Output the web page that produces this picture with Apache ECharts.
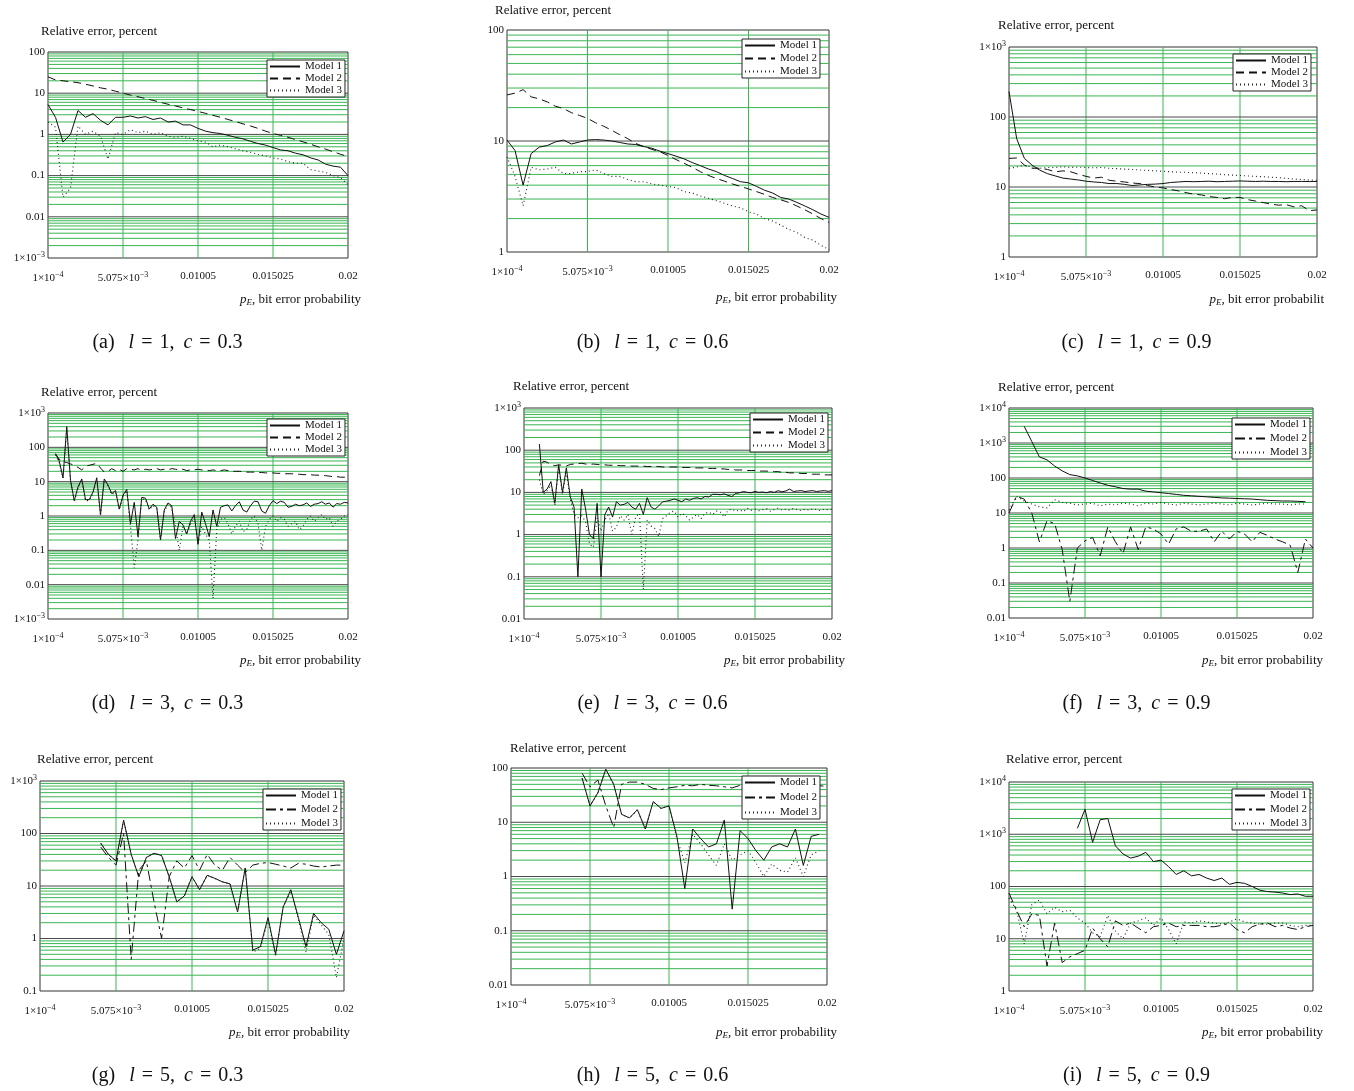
<!DOCTYPE html>
<html><head><meta charset="utf-8">
<script src="https://cdn.jsdelivr.net/npm/echarts@6/dist/echarts.min.js"></script>
<style>html,body{margin:0;padding:0;background:#fff}#c{width:1354px;height:1091px}</style>
</head><body><div id="c"></div>
<script>
// ---------- x sampling (bit error probability) ----------
const X41 = [0.0001,0.0005975,0.001095,0.0015925,0.00209,0.0025875,0.003085,0.0035825,0.00408,0.0045775,0.005075,0.0055725,0.00607,0.0065675,0.007065,0.0075625,0.00806,0.0085575,0.009055,0.0095525,0.01005,0.0105475,0.011045,0.0115425,0.01204,0.0125375,0.013035,0.0135325,0.01403,0.0145275,0.015025,0.0155225,0.01602,0.0165175,0.017015,0.0175125,0.01801,0.0185075,0.019005,0.0195025,0.02];
const X81 = [0.0001,0.00034875,0.0005975,0.00084625,0.001095,0.00134375,0.0015925,0.00184125,0.00209,0.00233875,0.0025875,0.00283625,0.003085,0.00333375,0.0035825,0.00383125,0.00408,0.00432875,0.0045775,0.00482625,0.005075,0.00532375,0.0055725,0.00582125,0.00607,0.00631875,0.0065675,0.00681625,0.007065,0.00731375,0.0075625,0.00781125,0.00806,0.00830875,0.0085575,0.00880625,0.009055,0.00930375,0.0095525,0.00980125,0.01005,0.01029875,0.0105475,0.01079625,0.011045,0.01129375,0.0115425,0.01179125,0.01204,0.01228875,0.0125375,0.01278625,0.013035,0.01328375,0.0135325,0.01378125,0.01403,0.01427875,0.0145275,0.01477625,0.015025,0.01527375,0.0155225,0.01577125,0.01602,0.01626875,0.0165175,0.01676625,0.017015,0.01726375,0.0175125,0.01776125,0.01801,0.01825875,0.0185075,0.01875625,0.019005,0.01925375,0.0195025,0.01975125,0.02];

// x tick values and labels (rich text exponents)
const xTickValues = [0.0001, 0.005075, 0.01005, 0.015025, 0.02];
const xTickLabels = ['1×10{sup|−4}','5.075×10{sup|−3}','0.01005','0.015025','0.02'];
const legendNames = ['Model 1','Model 2','Model 3'];

// ---------- (a) l=1, c=0.3 ----------
const a_m1 = [5.3,2.6,0.65,1.0,3.8,2.6,3.2,2.2,1.7,2.6,2.6,2.8,2.5,2.7,2.3,2.5,2.0,2.1,1.7,1.7,1.4,1.2,1.1,1.05,0.95,0.85,0.78,0.68,0.6,0.55,0.48,0.42,0.4,0.35,0.32,0.27,0.24,0.19,0.17,0.16,0.1];
const a_m2 = [25,21,20,19,18,16.5,15,13.5,12.5,11.2,10,9.0,8.2,7.4,6.7,6.0,5.4,4.9,4.4,4.0,3.6,3.25,2.9,2.6,2.3,2.05,1.8,1.6,1.4,1.2,1.05,0.95,0.85,0.75,0.66,0.58,0.5,0.44,0.38,0.33,0.29];
const a_m3 = [2.0,1.5,0.03,0.05,1.6,1.0,1.2,0.9,0.25,1.1,1.0,1.3,1.1,1.2,1.0,1.1,0.9,0.85,0.9,0.8,0.7,0.65,0.5,0.55,0.5,0.45,0.4,0.37,0.33,0.3,0.27,0.25,0.22,0.2,0.2,0.14,0.13,0.12,0.1,0.09,0.06];
// ---------- (b) l=1, c=0.6 ----------
const b_m1 = [10.2,8.2,4.0,7.7,8.8,9.1,9.8,10.2,9.4,9.8,10.2,10.3,10.2,10.0,9.7,9.4,9.3,8.9,8.6,8.1,7.7,7.3,6.9,6.4,6.0,5.6,5.3,4.9,4.6,4.3,4.2,3.9,3.6,3.4,3.1,3.0,2.8,2.6,2.4,2.2,2.05];
const b_m2 = [26,27,29,25,24,22.5,20.6,19.6,18,17,16,14.6,13.6,12.5,11.4,10.5,9.5,8.9,8.4,8.0,7.4,6.8,6.3,5.8,5.3,4.9,4.6,4.35,4.1,3.9,3.7,3.5,3.3,3.1,2.95,2.8,2.6,2.4,2.2,2.0,1.85];
const b_m3 = [7.2,4.8,2.6,5.8,5.5,5.6,5.8,5.1,5.1,5.3,5.3,5.5,5.1,4.8,4.8,4.5,4.3,4.3,4.1,4.0,3.9,3.8,3.5,3.4,3.2,3.05,2.9,2.75,2.6,2.5,2.3,2.2,2.0,1.9,1.75,1.6,1.5,1.35,1.28,1.15,1.05];
// ---------- (c) l=1, c=0.9 ----------
const c_m1 = [231,49,25.6,20.5,17.4,15.5,14.4,13.4,13.0,12.6,12.1,11.8,11.6,11.2,11.2,10.9,10.5,10.7,10.9,11.0,11.2,11.6,11.8,12,11.9,12,12.1,11.9,12,12.1,12.2,12.1,12,12.1,12,12,11.9,12,12,12,12];
const c_m2 = [25.6,26,20.5,18.5,18.5,17.8,16.5,17,16.5,15.2,14.2,13.4,13.8,12.5,12.1,11.8,11.4,11.2,10.5,10.0,9.7,9.2,8.8,8.3,7.9,7.7,7.3,7.1,6.8,7.1,7.1,6.6,6.3,6.0,5.7,5.5,5.6,5.2,5.4,4.6,4.7];
const c_m3 = [18.5,19.3,20.5,19.3,18.5,19,19,19.5,19,19.2,19,18.8,19,18.5,18.3,18,17.8,17.5,17.3,17,16.8,16.5,16.3,16.2,16,15.8,15.5,15.3,15,14.8,14.6,14.4,14.2,14,13.8,13.6,13.3,13,12.8,12.6,12.5];
// ---------- (d) l=3, c=0.3 (fine sampling) ----------
const d_m1 = [null,null,65,40,13,400,11,2.8,7,12,3,3,5,13,1.1,12,8,4.5,5.5,1.6,4,6,0.6,2.5,0.25,3.5,3.3,1.6,2.2,1.8,0.2,1.5,2.4,2.0,0.22,0.7,0.55,0.3,0.7,1.1,0.15,1.3,0.6,0.25,1.5,0.5,1.8,2.0,2.1,1.4,2.0,2.6,1.5,1.3,2.0,2.7,2.6,1.4,1.2,2.0,2.8,2.3,2.7,2.5,1.8,1.9,2.2,2.0,2.1,2.4,1.9,2.2,2.3,2.6,2.2,2.4,1.8,2.3,2.2,2.5,2.4];
const d_m2 = [null,null,65,45,38,36,33,30,26,22,28,30,32,34,25,19,20,24,21,23,20,24,23,22,24,21,23,22,23,24,22,23,22,24,23,22,23,21,22,22,23,22,22,21,22,21,21,22,21,20,20,20,19.5,19,19,19,18.5,18.5,18,18,18,17.5,17.5,17,17,17,16.5,16.5,16,16,16,15.5,15.5,15,15,14.5,14,14,13.5,13.5,13];
const d_m3 = [null,null,60,35,13,350,11,2.6,6.5,11,2.8,2.8,4.5,12,1.0,11,7.5,4.2,5,1.5,3.7,5.5,0.5,0.03,0.2,3.2,3.0,1.5,2.0,1.7,0.2,1.3,2.2,1.8,0.5,0.1,0.5,0.3,0.6,0.9,0.15,0.5,0.3,0.2,0.004,0.4,0.8,0.9,0.6,0.3,0.5,0.7,0.35,0.4,0.8,1.0,0.6,0.1,0.5,0.8,1.0,0.7,0.9,0.8,0.5,0.6,0.7,0.4,0.5,0.8,1.0,0.7,0.9,1.1,0.8,0.9,0.5,0.7,0.8,1.0,1.1];
// ---------- (e) l=3, c=0.6 (fine sampling) ----------
const e_m1 = [null,null,null,null,140,10,12,18,5.5,45,10,38,8,4.5,0.1,12,4,1.0,0.8,5.5,0.1,3,4.5,2.6,6,5,5.2,5.8,4.5,4,5.5,3,7.5,4.5,4,4.8,6,6.2,6.5,7,6.5,6,7,6.5,7.2,7.5,7,8,7.8,9,9,8.8,9.2,8.5,8,9.5,9.8,10.5,10,9.8,10.5,10,10.2,9.8,10.5,10,11,10.3,10.8,12,10.5,10.8,11,10.5,10.8,11,10.5,10.8,11,10.6,11];
const e_m2 = [null,null,null,null,25,55,52,45,43,45,44,42,46,47,48,49,47,46,47,46,45,45,44,44,44,43,43,43,42,42,42,42,41,41,41,41,40,40,40,40,40,39,39,39,38,38,38,38,37,37,37,36,36,35,35,34,34,34,33,33,33,32,32,32,31,31,31,30,30,29,29,29,28,28,28,27,27,27,26,26,26];
const e_m3 = [null,null,null,null,20,9,11,15,5,40,9,30,7,3,2.5,2.8,2,0.6,0.5,2.5,1.2,2.2,3.2,1.2,1.5,2.8,2.2,3.0,1.0,2.6,3.2,0.05,2.2,1.6,1.4,0.9,2.4,2.8,3.4,3.6,2.6,3.2,2.8,2.2,2.6,3.0,2.4,3.2,3.4,3.0,3.6,3.4,2.6,3.8,4.0,3.6,3.8,3.5,4.2,3.8,4.0,3.7,3.9,4.1,3.6,3.9,4.2,3.8,4.0,3.8,4.2,3.9,3.7,4.0,3.8,4.1,3.9,3.7,4.0,3.9,4.0];
// ---------- (f) l=3, c=0.9 ----------
const f_m1 = [null,null,3000,1100,400,330,220,160,125,115,100,85,72,62,56,50,48,48,42,40,38,36,34,32,31,30,29,28,27,26.5,26,25.5,25,24,23,22.5,22,22,21.5,21,null];
const f_m2 = [10,30,25,10,1.5,6,5,0.9,0.03,1,1.6,2,0.6,4,1.5,0.7,4,0.9,4,3.5,2.5,1.3,3.5,4,3,3,3.5,1.5,3,1.8,3,2.5,1.5,2.8,2.3,1.8,1.5,1.2,0.2,1.8,1.0];
const f_m3 = [12,30,22,18,15,14,24,20,19,17,18,19,16,18,17,19,18,16,19,18,20,18,17,19,18,17,18,19,18,17,19,18,17,18,19,18,18,17,18,18,null];
// ---------- (g) l=5, c=0.3 ----------
const g_m1 = [null,null,null,null,null,null,null,null,65,40,30,180,40,15,35,42,38,15,5,6.5,15,8.5,16,14,12,11,3.2,22,0.6,0.7,2.5,0.5,4,8.5,2.5,0.7,3,2,1.5,0.5,1.4];
const g_m2 = [null,null,null,null,null,null,null,null,55,35,25,100,0.4,20,30,5,1.0,15,30,22,38,20,40,25,20,35,25,18,25,27,28,26,24,22,27,26,24,23,24,25,25];
const g_m3 = [null,null,null,null,null,null,null,null,65,40,30,180,40,15,35,42,38,15,5,6.5,15,8.5,16,14,12,11,3.2,22,0.55,0.65,2.3,0.45,4,8,2.3,0.55,2.8,1.8,1.2,0.18,1.0];
// ---------- (h) l=5, c=0.6 ----------
const h_m1 = [null,null,null,null,null,null,null,null,null,65,20,35,95,50,14,12,17,7.5,24,18,20,5.5,0.6,7.5,5,3.5,4,11,0.25,7,5,3,2,3.5,4,3.5,7.5,1.6,5.5,6,null];
const h_m2 = [null,null,null,null,null,null,null,null,null,80,45,60,20,8,50,55,55,50,42,40,43,45,48,47,50,48,47,45,43,48,47,47,46,48,47,45,46,47,48,47,46];
const h_m3 = [null,null,null,null,null,null,null,null,null,65,20,35,95,50,14,12,17,7.5,24,18,20,5,1.8,6,4,2.5,1.6,4,2,2.5,3,1.8,1.0,1.7,1.3,1.2,2.2,1.0,2.5,3,null];
// ---------- (i) l=5, c=0.9 ----------
const i_m1 = [null,null,null,null,null,null,null,null,null,1300,3000,700,1900,2000,600,420,350,380,450,300,320,240,170,200,160,170,145,130,145,110,120,115,100,85,80,78,75,70,72,65,65];
const i_m2 = [75,35,17,30,28,3,20,3.5,4.5,5.2,6,16,10,7,22,18,20,16,13,17,18,20,17,18,18,18,17,17,18,20,15,13,17,19,20,17,18,16,15,17,18];
const i_m3 = [60,35,8,45,55,30,40,33,35,25,20,13,11,28,14,10,20,22,25,18,25,15,8,21,20,22,21,20,19,21,24,21,20,19,19,20,20,18,17,18,18];

// ---------- layout / style (not data) ----------
const SERIF = '"Liberation Serif","Times New Roman",serif';
const GREEN = '#3ab653';
const DECADE = '#4a4a4a';
const DASH_A = [8, 5];
const DASH_B = [10, 4, 3, 4];
const DOT = [1, 3];
const XMIN = 0.0001, XMAX = 0.02, XSTEP = 0.004975;

const panels = [
  {id:'a', x:X41, m:[a_m1,a_m2,a_m3], yr:[1e-3,1e2], g:[48,52,300,206],  lg:[267,60,1],  yl:[41,25],   xn:[361,300],  cap:[172,343,'(a)','1','0.3'], d2:DASH_A, xname:'bit error probability'},
  {id:'b', x:X41, m:[b_m1,b_m2,b_m3], yr:[1,1e2],    g:[507,30,322,222], lg:[742,39,2],  yl:[495,4],   xn:[837,298],  cap:[657,343,'(b)','1','0.6'], d2:DASH_A, xname:'bit error probability'},
  {id:'c', x:X41, m:[c_m1,c_m2,c_m3], yr:[1,1e3],    g:[1009,47,308,210],lg:[1233,54,1], yl:[998,19],  xn:[1324,300], cap:[1141,343,'(c)','1','0.9'], d2:DASH_A, xname:'bit error probabilit'},
  {id:'d', x:X81, m:[d_m1,d_m2,d_m3], yr:[1e-3,1e3], g:[48,413,300,206], lg:[267,419,1], yl:[41,386],  xn:[361,661],  cap:[172,704,'(d)','3','0.3'], d2:DASH_A, xname:'bit error probability'},
  {id:'e', x:X81, m:[e_m1,e_m2,e_m3], yr:[1e-2,1e3], g:[524,408,308,211],lg:[750,413,2], yl:[513,380],  xn:[845,661],  cap:[657,704,'(e)','3','0.6'], d2:DASH_A, xname:'bit error probability'},
  {id:'f', x:X41, m:[f_m1,f_m2,f_m3], yr:[1e-2,1e4], g:[1009,408,304,210],lg:[1232,418,3],yl:[998,381],  xn:[1323,661], cap:[1141,704,'(f)','3','0.9'], d2:DASH_B, xname:'bit error probability'},
  {id:'g', x:X41, m:[g_m1,g_m2,g_m3], yr:[1e-1,1e3], g:[40,781,304,210], lg:[263,789,3], yl:[37,753],  xn:[350,1033], cap:[172,1076,'(g)','5','0.3'], d2:DASH_B, xname:'bit error probability'},
  {id:'h', x:X41, m:[h_m1,h_m2,h_m3], yr:[1e-2,1e2], g:[511,768,316,217],lg:[742,776,4], yl:[510,742],  xn:[837,1033], cap:[657,1076,'(h)','5','0.6'], d2:DASH_B, xname:'bit error probability'},
  {id:'i', x:X41, m:[i_m1,i_m2,i_m3], yr:[1,1e4],    g:[1009,782,304,209],lg:[1232,789,3],yl:[1006,753], xn:[1323,1033],cap:[1141,1076,'(i)','5','0.9'], d2:DASH_B, xname:'bit error probability'}
];

function zip(xs, ys){ return xs.map((x,k)=>[x, ys[k]]); }
function yLab(v){
  const e = Math.round(Math.log10(v));
  if (e >= 3 || e <= -3) return '1×10{sup|' + (e < 0 ? '−' : '') + Math.abs(e) + '}';
  if (e >= 0) return String(Math.pow(10, e));
  return e === -1 ? '0.1' : '0.01';
}
function xLab(v){ return xTickLabels[Math.round((v - XMIN) / XSTEP)] || ''; }
// grid lines as polyline segments through the axes' scales (broken by nulls)
function hLines(vals){
  const out = [];
  vals.forEach(v => { out.push([XMIN, v], [XMAX, v], [XMIN, null]); });
  return out;
}
function vLines(xs, lo, hi){
  const out = [];
  xs.forEach(x => { out.push([x, lo], [x, hi], [x, null]); });
  return out;
}
function minorVals(lo, hi){
  const out = [];
  for (let e = Math.round(Math.log10(lo)); e < Math.round(Math.log10(hi)); e++)
    for (let m = 2; m <= 9; m++) out.push(m * Math.pow(10, e));
  return out;
}
function decadeVals(lo, hi){
  const out = [];
  for (let e = Math.round(Math.log10(lo)) + 1; e < Math.round(Math.log10(hi)); e++) out.push(Math.pow(10, e));
  return out;
}
const richSup = {sup:{fontSize:8, fontFamily:SERIF, color:'#111', padding:[0,0,7,0]}};
const innerXTicks = xTickValues.slice(1, -1);

const grid=[], xAxis=[], yAxis=[], series=[], legend=[], graphic=[];
panels.forEach((p, i) => {
  grid.push({left:p.g[0], top:p.g[1], width:p.g[2], height:p.g[3], show:true, borderColor:'#333', borderWidth:1, backgroundColor:'transparent', containLabel:false, outerBoundsMode:'none'});
  xAxis.push({gridIndex:i, type:'value', min:XMIN, max:XMAX, interval:XSTEP,
    axisLine:{show:false}, axisTick:{show:false}, splitLine:{show:false},
    axisLabel:{formatter:xLab, margin:13, fontFamily:SERIF, fontSize:11, color:'#111', rich:richSup, showMinLabel:true, showMaxLabel:true}});
  yAxis.push({gridIndex:i, type:'log', logBase:10, min:p.yr[0], max:p.yr[1],
    axisLine:{show:false}, axisTick:{show:false}, splitLine:{show:false}, minorSplitLine:{show:false},
    axisLabel:{formatter:yLab, margin:3, fontFamily:SERIF, fontSize:11, color:'#111', rich:richSup, showMinLabel:true, showMaxLabel:true}});
  const gridSeries = (data, color) => ({type:'line', xAxisIndex:i, yAxisIndex:i, data, silent:true, z:1,
    symbol:'none', showSymbol:false, connectNulls:false, lineStyle:{color, width:1, type:'solid'}, emphasis:{disabled:true}});
  series.push(gridSeries(hLines(minorVals(p.yr[0], p.yr[1])), GREEN));
  series.push(gridSeries(vLines(innerXTicks, p.yr[0], p.yr[1]), GREEN));
  series.push(gridSeries(hLines(decadeVals(p.yr[0], p.yr[1])), DECADE));
  const styles = [
    {color:'#111', width:1, type:'solid'},
    {color:'#111', width:1, type:p.d2},
    {color:'#222', width:1.1, type:DOT}
  ];
  [0,1,2].forEach(s => {
    series.push({name:p.id + ':' + legendNames[s], type:'line', xAxisIndex:i, yAxisIndex:i,
      data:zip(p.x, p.m[s]), symbol:'none', showSymbol:false, connectNulls:false, silent:true, z:3,
      lineStyle:styles[s], itemStyle:{color:'#111'}, emphasis:{disabled:true}});
  });
  legend.push({left:p.lg[0], top:p.lg[1], orient:'vertical', selectedMode:false, z:10,
    data:legendNames.map(n => p.id + ':' + n), formatter:n => n.split(':')[1],
    backgroundColor:'#fff', borderColor:'#222', borderWidth:1, borderRadius:0,
    padding:[1,3,1,2], itemGap:p.lg[2], itemWidth:30, itemHeight:10,
    itemStyle:{opacity:0},
    textStyle:{fontFamily:SERIF, fontSize:11, color:'#111', padding:[0,0,0,0]}});
  graphic.push({type:'text', x:p.yl[0], y:p.yl[1], silent:true,
    style:{text:'Relative error, percent', font:'13px ' + SERIF, fill:'#111', verticalAlign:'top', align:'left'}});
  graphic.push({type:'text', x:p.xn[0], y:p.xn[1], silent:true,
    style:{text:'{it|p}{sub|E}, ' + p.xname, font:'13px ' + SERIF, fill:'#111', align:'right', verticalAlign:'middle',
      rich:{it:{font:'italic 13px ' + SERIF, fill:'#111'}, sub:{font:'italic 9px ' + SERIF, fill:'#111', padding:[6,0,0,0]}}}});
  graphic.push({type:'text', x:p.cap[0], y:p.cap[1], silent:true,
    style:{text:'{lb|' + p.cap[2] + '}{it|l}{eq|=}{n|' + p.cap[3] + ',}{it|c}{eq|=}{n|' + p.cap[4] + '}',
      font:'20px ' + SERIF, fill:'#111', align:'center', verticalAlign:'middle',
      rich:{lb:{font:'20px ' + SERIF, fill:'#111', padding:[0,14,0,0]},
            n:{font:'20px ' + SERIF, fill:'#111', padding:[0,9,0,0]},
            it:{font:'italic 20px ' + SERIF, fill:'#111'},
            eq:{font:'20px ' + SERIF, fill:'#111', padding:[0,7,0,7]}}}});
});

const chart = echarts.init(document.getElementById('c'), null, {renderer:'canvas'});
chart.setOption({animation:false, backgroundColor:'#fff', textStyle:{fontFamily:SERIF},
  grid, xAxis, yAxis, series, legend, graphic});
</script>
</body></html>
